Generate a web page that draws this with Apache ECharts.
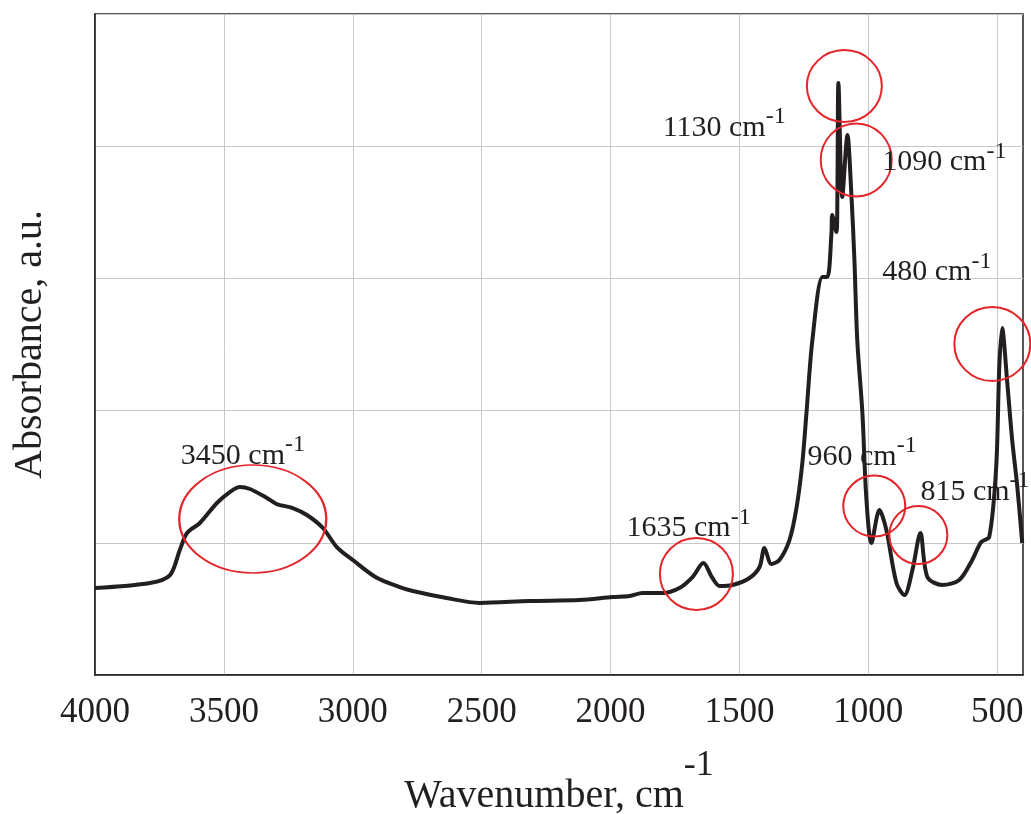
<!DOCTYPE html>
<html>
<head>
<meta charset="utf-8">
<script src="https://cdn.jsdelivr.net/npm/echarts@6.0.0/dist/echarts.min.js"></script>
<style>
html, body { margin: 0; padding: 0; background: #fff; }
#main { width: 1031px; height: 814px; }
</style>
</head>
<body>
<div id="main"></div>
<script>
// spectrum
var wavenumber = [4000, 3787, 3709, 3671, 3643, 3593, 3527, 3477, 3438, 3399, 3333, 3295, 3233, 3178, 3116, 3062, 3000, 2907,
  2818, 2767, 2636, 2508, 2314, 2120, 1992, 1926, 1876, 1798, 1733, 1682, 1640, 1605, 1577, 1527, 1461, 1422, 1403, 1376,
  1345, 1306, 1279, 1256, 1240, 1217, 1178, 1159, 1143, 1140, 1124, 1120, 1116, 1101, 1081, 1066, 1054, 1043, 1023, 1008,
  988, 957, 930, 891, 860, 829, 798, 771, 713, 647, 597, 562, 531, 504, 492, 481, 461, 442, 422, 403];
var absorbance = [0.658, 0.696, 0.756, 0.946, 1.074, 1.150, 1.301, 1.384, 1.422, 1.407, 1.339, 1.293, 1.263, 1.210, 1.112, 0.968, 0.870, 0.735,
  0.665, 0.635, 0.582, 0.545, 0.560, 0.567, 0.590, 0.598, 0.620, 0.620, 0.658, 0.741, 0.847, 0.734, 0.673, 0.681, 0.734, 0.817, 0.961, 0.840,
  0.870, 1.021, 1.260, 1.604, 1.982, 2.534, 3.011, 3.011, 3.343, 3.480, 3.351, 3.646, 4.478, 3.616, 4.085, 3.646, 3.139, 2.534, 1.982, 1.346,
  0.998, 1.248, 1.097, 0.696, 0.605, 0.794, 1.074, 0.741, 0.681, 0.719, 0.870, 1.006, 1.044, 1.573, 2.330, 2.625, 2.209, 1.778, 1.422, 0.998];

var xTicks = [4000, 3500, 3000, 2500, 2000, 1500, 1000, 500];

// red rings round the bands (centre in data units)
var ringX = [3388, 1667, 1093, 1047, 977, 806, 519];
var ringY = [1.18, 0.764, 4.455, 3.896, 1.278, 1.059, 2.504];
var ringSize = [[147, 108], [73, 72], [75, 72], [71, 73], [62, 61], [58, 58], [76, 74]];

// band labels (left edge and digit middle in data units)
var labelText = ['3450', '1130', '1090', '480', '960', '815', '1635'];
var labelX = [3667, 1798, 946, 946, 1236, 798, 1938];
var labelY = [1.657, 4.138, 3.877, 3.045, 1.649, 1.384, 1.108];

var serif = '"Liberation Serif", "Times New Roman", serif';
var ink = '#231f20';

var chart = echarts.init(document.getElementById('main'));

var points = wavenumber.map(function (w, i) { return [w, absorbance[i]]; });
var rings = ringX.map(function (w, i) {
  return { coord: [w, ringY[i]], symbolSize: ringSize[i] };
});

var option = {
  animation: false,
  grid: {
    left: 95, right: 8, top: 14, bottom: 139,
    outerBoundsMode: 'none',
    show: true, borderColor: ink, borderWidth: 1.5
  },
  xAxis: {
    type: 'value',
    inverse: true,
    min: 400,
    max: 4000,
    name: '{a|Wavenumber, cm}{b|-1}',
    nameLocation: 'middle',
    nameGap: 73,
    nameTextStyle: {
      rich: {
        a: { fontFamily: serif, fontSize: 40, color: ink, verticalAlign: 'bottom' },
        b: { fontFamily: serif, fontSize: 36, color: ink, verticalAlign: 'bottom', padding: [0, 0, 32, 0] }
      }
    },
    axisLine: { show: true, lineStyle: { color: ink, width: 1.5 } },
    axisTick: { show: false, customValues: xTicks },
    axisLabel: {
      customValues: xTicks,
      formatter: function (v) { return String(v); },
      fontFamily: serif, fontSize: 35, color: ink, margin: 20
    },
    splitLine: { show: true, lineStyle: { color: '#c8c8c8', width: 1 } }
  },
  yAxis: {
    type: 'value',
    min: 0,
    max: 5,
    interval: 1,
    name: 'Absorbance, a.u.',
    nameLocation: 'middle',
    nameGap: 45,
    nameTextStyle: { fontFamily: serif, fontSize: 40, color: ink },
    axisLine: { show: true, lineStyle: { color: ink, width: 1.5 } },
    axisTick: { show: false },
    axisLabel: { show: false },
    splitLine: { show: true, lineStyle: { color: '#c8c8c8', width: 1 } }
  },
  series: [{
    type: 'line',
    data: points,
    showSymbol: false,
    smooth: 0.3,
    lineStyle: { color: ink, width: 4 },
    markPoint: {
      symbol: 'circle',
      silent: true,
      label: { show: false },
      itemStyle: { color: 'rgba(0,0,0,0)', borderColor: '#e3262b', borderWidth: 2 },
      data: rings
    }
  }]
};

chart.setOption(option);

var texts = labelText.map(function (t, i) {
  var p = chart.convertToPixel({ gridIndex: 0 }, [labelX[i], labelY[i]]);
  return {
    type: 'text',
    x: p[0],
    y: p[1] + 15,
    z: 100,
    style: {
      text: '{a|' + t + ' cm}{b|-1}',
      align: 'left',
      verticalAlign: 'bottom',
      rich: {
        a: { fontFamily: serif, fontSize: 30, fill: ink, verticalAlign: 'bottom' },
        b: { fontFamily: serif, fontSize: 24, fill: ink, verticalAlign: 'bottom', padding: [0, 0, 14, 0] }
      }
    }
  };
});
chart.setOption({ graphic: texts });
</script>
</body>
</html>
